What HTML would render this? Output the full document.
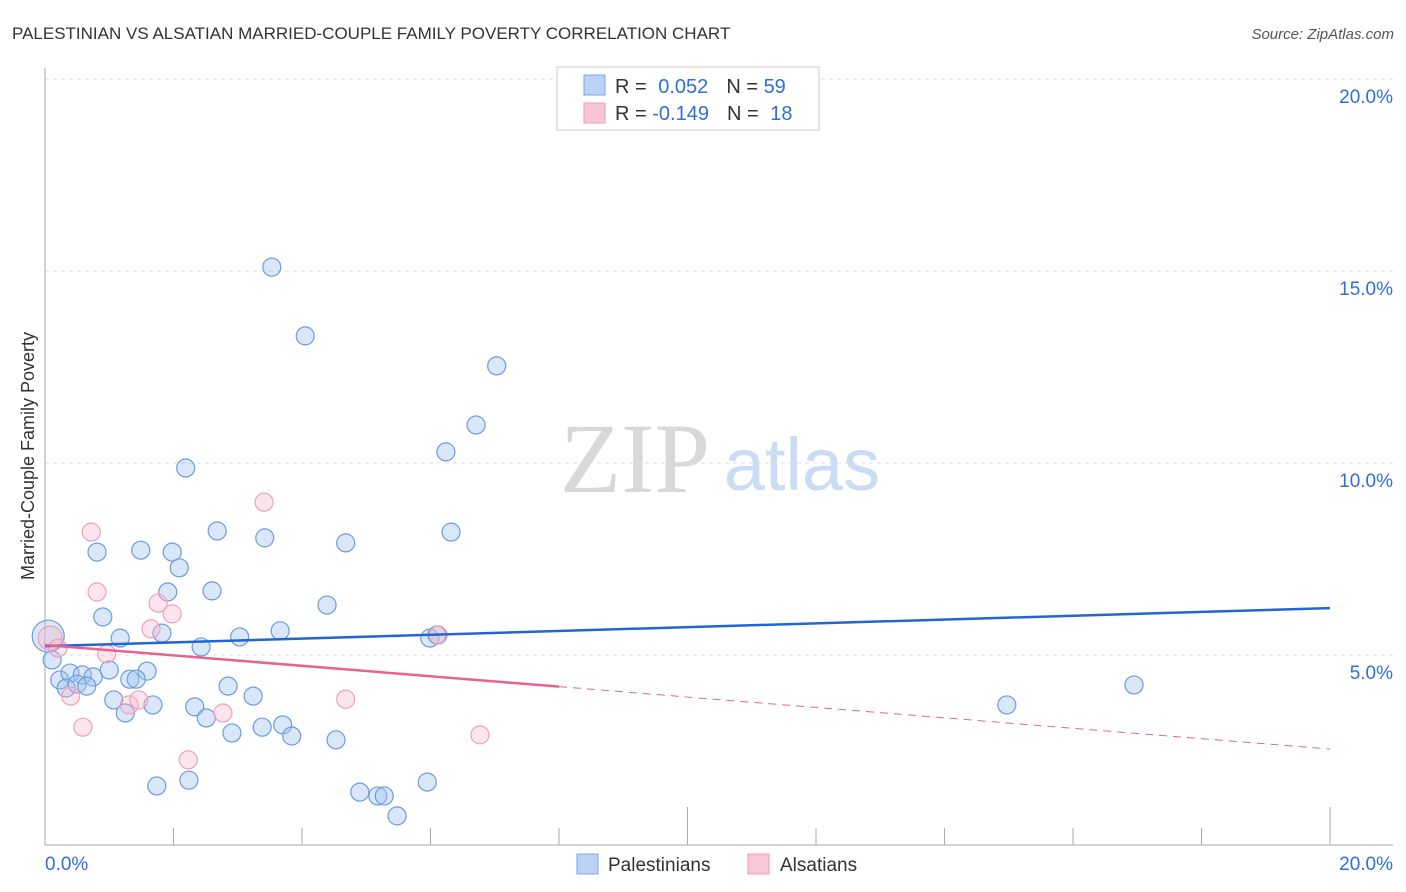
<!DOCTYPE html>
<html><head><meta charset="utf-8"><style>
body{margin:0;background:#fff;font-family:"Liberation Sans",sans-serif;}
svg{display:block}
</style></head><body>
<svg id="c" width="1406" height="892">
<text x="12" y="39" font-size="17" fill="#333">PALESTINIAN VS ALSATIAN MARRIED-COUPLE FAMILY POVERTY CORRELATION CHART</text>
<text x="1394" y="39" font-size="15" fill="#555" font-style="italic" text-anchor="end">Source: ZipAtlas.com</text>
<text transform="translate(34,456) rotate(-90)" font-size="18" fill="#333" text-anchor="middle">Married-Couple Family Poverty</text>
<g><text x="635" y="492" font-size="100" font-family="Liberation Serif,serif" fill="#d8d8d8" text-anchor="middle">ZIP</text><text x="802" y="490" font-size="74" fill="#c9dcf3" text-anchor="middle">atlas</text></g>
<g id="grid"></g><g id="axes"></g><g id="pts"></g><g id="trend"></g>
<g>
<rect x="557" y="67" width="262" height="63" fill="#fff" stroke="#ccc"/>
<rect x="584" y="75" width="21" height="20" fill="#b9d2f5" stroke="#7aa6e6"/>
<rect x="584" y="103" width="21" height="20" fill="#f9c6d5" stroke="#f09ab4"/>
<text x="615" y="93" font-size="20" fill="#333">R = <tspan fill="#2f6fd6" dx="6">0.052</tspan><tspan dx="18" fill="#333">N = </tspan><tspan fill="#2f6fd6">59</tspan></text>
<text x="615" y="120" font-size="20" fill="#333">R = <tspan fill="#2f6fd6">-0.149</tspan><tspan dx="18" fill="#333">N = </tspan><tspan fill="#2f6fd6" dx="6">18</tspan></text>
</g>
<g>
<rect x="577" y="854" width="21" height="20" fill="#b9d2f5" stroke="#7aa6e6"/>
<text x="608" y="871" font-size="19" fill="#333">Palestinians</text>
<rect x="748" y="854" width="21" height="20" fill="#f9c6d5" stroke="#f09ab4"/>
<text x="780" y="871" font-size="19" fill="#333">Alsatians</text>
</g>
</svg>
<script>
const yTicks=[5,10,15,20];
const yTickLabels=["5.0%","10.0%","15.0%","20.0%"];
const xTickLabels=["0.0%","20.0%"];
const blueX=[3.53,4.05,7.03,6.71,6.24,2.19,2.68,3.42,4.68,6.32,0.81,1.49,1.98,2.09,1.91,2.60,0.90,4.39,1.82,1.17,3.03,3.66,2.43,5.99,6.10,0.05,0.11,1.00,1.59,0.23,0.39,0.58,0.75,0.33,0.50,0.65,1.32,1.42,2.85,1.07,1.68,1.25,2.33,3.24,2.51,2.91,3.38,3.70,3.84,4.53,1.74,2.24,4.90,5.18,5.28,5.48,5.95,14.97,16.95];
const blueY=[15.10,13.31,12.53,10.99,10.29,9.87,8.23,8.05,7.92,8.20,7.68,7.73,7.68,7.27,6.64,6.67,5.99,6.30,5.57,5.44,5.47,5.63,5.21,5.44,5.52,5.49,4.87,4.61,4.58,4.35,4.53,4.48,4.43,4.14,4.24,4.19,4.37,4.37,4.19,3.83,3.70,3.49,3.65,3.93,3.36,2.97,3.12,3.18,2.89,2.79,1.59,1.74,1.43,1.33,1.33,0.81,1.69,3.70,4.22];
const pinkX=[3.41,0.72,0.81,1.76,1.98,1.65,0.96,6.12,0.08,0.20,0.40,1.31,1.46,2.77,4.68,0.59,2.23,6.77];
const pinkY=[8.98,8.20,6.64,6.35,6.07,5.68,5.03,5.52,5.44,5.18,3.93,3.70,3.83,3.49,3.85,3.12,2.27,2.92];
const blueTrend=[5.23,6.22];
const pinkTrend=[5.26,2.55];
const NS="http://www.w3.org/2000/svg";
const X=v=>45+v/20*1285, Y=v=>847-v/5*192;
function mk(p,tag,a){const e=document.createElementNS(NS,tag);for(const k in a)e.setAttribute(k,a[k]);p.appendChild(e);return e;}
const grid=document.getElementById('grid'),axes=document.getElementById('axes'),pts=document.getElementById('pts'),tr=document.getElementById('trend');
yTicks.forEach((t,i)=>{
 const l=mk(grid,'line',{x1:45,x2:1393,y1:Y(t),y2:Y(t),stroke:'#ddd','stroke-dasharray':'4,4'});
 
 
 const tx=mk(grid,'text',{x:1393,y:Y(t)+24,'font-size':19,fill:'#2f6fd6','text-anchor':'end'});tx.textContent=yTickLabels[i];
 
 
});
const ax=mk(axes,'line',{x1:45,x2:1393,y1:845,y2:845,stroke:'#aaa'});


const ay=mk(axes,'line',{x1:45,x2:45,y1:68,y2:845,stroke:'#aaa'});


for(let i=1;i<=10;i++){const x=X(i*2);const t=mk(axes,'line',{x1:x,x2:x,y1:(i%5==0)?807:828,y2:845,stroke:'#aaa'});
 
 }
const xl0=mk(axes,'text',{x:45,y:870,'font-size':19,fill:'#2f6fd6'});xl0.textContent=xTickLabels[0];


const xl1=mk(axes,'text',{x:1393,y:870,'font-size':19,fill:'#2f6fd6','text-anchor':'end'});xl1.textContent=xTickLabels[1];


blueX.forEach((v,i)=>{const c=mk(pts,'circle',{cx:X(v),cy:Y(blueY[i]),r:i==25?16:9,fill:'rgba(160,195,240,0.4)',stroke:'#6b9be2','stroke-width':1.2});
 
 });
pinkX.forEach((v,i)=>{const c=mk(pts,'circle',{cx:X(v),cy:Y(pinkY[i]),r:i==8?12:9,fill:'rgba(245,180,200,0.35)',stroke:'#f0a0b8','stroke-width':1.2});
 
 });
const bt=mk(tr,'line',{x1:X(0),x2:X(20),y1:Y(blueTrend[0]),y2:Y(blueTrend[1]),stroke:'#2166d4','stroke-width':2.5});


const pe=8;const pm=pinkTrend[0]+(pinkTrend[1]-pinkTrend[0])*pe/20;
const ps=mk(tr,'line',{x1:X(0),x2:X(pe),y1:Y(pinkTrend[0]),y2:Y(pm),stroke:'#e8628f','stroke-width':2.5});


const pd=mk(tr,'line',{x1:X(pe),x2:X(20),y1:Y(pm),y2:Y(pinkTrend[1]),stroke:'#e8628f','stroke-width':1,'stroke-dasharray':'8,6'});


</script>
</body></html>
